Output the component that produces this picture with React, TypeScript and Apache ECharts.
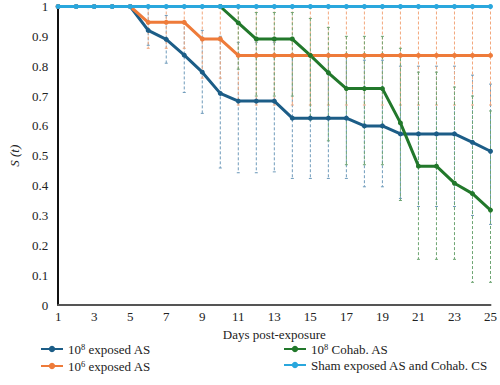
import React, { useEffect, useRef } from "react";
import * as echarts from "echarts";

const days = Array.from({ length: 25 }, (_, i) => String(i + 1));

const exposed8 = [1, 1, 1, 1, 1, 0.92, 0.89, 0.837, 0.78, 0.709, 0.683, 0.683, 0.683, 0.626, 0.626, 0.626, 0.626, 0.6, 0.6, 0.573, 0.573, 0.573, 0.573, 0.545, 0.515];
const exposed8Low = [null, null, null, null, null, 0.87, 0.81, 0.712, 0.642, 0.459, 0.443, 0.443, 0.446, 0.424, 0.424, 0.424, 0.424, 0.396, 0.396, 0.357, 0.33, 0.33, 0.33, 0.3, 0.27];
const exposed8High = [null, null, null, null, null, 0.997, 0.97, 0.95, 0.92, 0.9, 0.88, 0.88, 0.88, 0.84, 0.84, 0.84, 0.84, 0.82, 0.82, 0.8, 0.8, 0.8, 0.8, 0.77, 0.74];

const exposed6 = [1, 1, 1, 1, 1, 0.947, 0.947, 0.947, 0.891, 0.891, 0.836, 0.836, 0.836, 0.836, 0.836, 0.836, 0.836, 0.836, 0.836, 0.836, 0.836, 0.836, 0.836, 0.836, 0.836];
const exposed6Low = [null, null, null, null, null, 0.86, 0.86, 0.86, 0.76, 0.76, 0.67, 0.67, 0.67, 0.67, 0.67, 0.67, 0.67, 0.67, 0.67, 0.67, 0.67, 0.67, 0.67, 0.67, 0.67];
const exposed6High = [null, null, null, null, null, 1, 1, 1, 1, 1, 1, 1, 1, 1, 1, 1, 1, 1, 1, 1, 1, 1, 1, 1, 1];

const cohab8 = [null, null, null, null, null, null, null, null, null, 1, 0.945, 0.891, 0.891, 0.891, 0.836, 0.778, 0.725, 0.725, 0.725, 0.61, 0.465, 0.465, 0.408, 0.373, 0.318];
const cohab8Low = [null, null, null, null, null, null, null, null, null, null, 0.79, 0.7, 0.7, 0.7, 0.62, 0.55, 0.47, 0.47, 0.47, 0.35, 0.153, 0.153, 0.153, 0.076, 0.076];
const cohab8High = [null, null, null, null, null, null, null, null, null, null, 1, 0.98, 0.98, 0.98, 0.96, 0.93, 0.9, 0.9, 0.9, 0.86, 0.78, 0.78, 0.73, 0.7, 0.65];

const sham = Array.from({ length: 25 }, () => 1);

const names = ["10^8 exposed AS", "10^6 exposed AS", "10^8 Cohab. AS", "Sham exposed AS and Cohab. CS"];
const colors = ["#1c5d87", "#ee7b3a", "#22782b", "#2aa7dd"];
const barColors = ["#6f9bbb", "#f3a77c", "#6ea572", "#2aa7dd"];

const FONT = "Liberation Serif";

function errData(lo: (number | null)[], hi: (number | null)[]) {
  const out: number[][] = [];
  lo.forEach((l, i) => {
    const h = hi[i];
    if (l != null && h != null) out.push([i, l, h]);
  });
  return out;
}

function errSeries(lo: (number | null)[], hi: (number | null)[], color: string) {
  return {
    type: "custom",
    silent: true,
    z: 1,
    data: errData(lo, hi),
    encode: { x: 0, y: [1, 2] },
    renderItem: (params: any, api: any) => {
      const x = api.value(0);
      const p1 = api.coord([x, api.value(2)]);
      const p2 = api.coord([x, api.value(1)]);
      const st = { stroke: color, lineWidth: 1 };
      return {
        type: "group",
        children: [
          { type: "line", shape: { x1: p1[0], y1: p1[1], x2: p2[0], y2: p2[1] }, style: { ...st, lineDash: [3, 2] } },
          { type: "line", shape: { x1: p1[0] - 1.5, y1: p1[1], x2: p1[0] + 1.5, y2: p1[1] }, style: st },
          { type: "line", shape: { x1: p2[0] - 1.5, y1: p2[1], x2: p2[0] + 1.5, y2: p2[1] }, style: st },
        ],
      };
    },
  };
}

function lineSeries(name: string, data: (number | null)[], color: string, z: number) {
  return {
    type: "line",
    name,
    data,
    z,
    symbol: "circle",
    symbolSize: 5,
    showSymbol: true,
    lineStyle: { color, width: 3 },
    itemStyle: { color },
    connectNulls: false,
  };
}

const legendFormatter = (name: string) => {
  if (name.startsWith("10^")) {
    const exp = name.charAt(3);
    return "{b|10}{sup|" + exp + "}{b|" + name.slice(4) + "}";
  }
  return "{b|" + name + "}";
};

const legendText = {
  fontFamily: FONT,
  fontSize: 13,
  color: "#222",
  rich: {
    b: { fontFamily: FONT, fontSize: 13, color: "#222", lineHeight: 14, verticalAlign: "bottom" },
    sup: { fontFamily: FONT, fontSize: 8.5, color: "#222", lineHeight: 14, verticalAlign: "top", padding: [0, 0, 5, 0] },
  },
};

function legendCfg(data: string[], left: number) {
  return {
    data,
    orient: "vertical",
    left,
    top: 342,
    itemWidth: 22,
    itemHeight: 8,
    itemGap: 3,
    padding: 0,
    formatter: legendFormatter,
    textStyle: legendText,
  };
}

export default function App() {
  const ref = useRef<HTMLDivElement>(null);
  useEffect(() => {
    if (!ref.current) return;
    const chart = echarts.init(ref.current, undefined, { renderer: "svg" });
    chart.setOption({
      animation: false,
      backgroundColor: "#fff",
      color: colors,
      grid: { left: 41, right: 6, top: 4, bottom: 80, containLabel: false },
      legend: [legendCfg([names[0], names[1]], 40), legendCfg([names[2], names[3]], 283)],
      xAxis: {
        type: "category",
        data: days,
        boundaryGap: false,
        name: "Days post-exposure",
        nameLocation: "middle",
        nameGap: 17,
        nameTextStyle: { fontFamily: FONT, fontSize: 13, color: "#222" },
        axisLine: { lineStyle: { color: "#555", width: 2 } },
        axisTick: { show: false },
        axisLabel: { interval: 1, fontFamily: FONT, fontSize: 13, color: "#222", margin: 5 },
        splitLine: { show: false },
      },
      yAxis: {
        type: "value",
        min: 0,
        max: 1,
        interval: 0.1,
        name: "S (t)",
        nameLocation: "middle",
        nameGap: 30,
        nameRotate: 90,
        nameTextStyle: { fontFamily: FONT, fontSize: 13, fontStyle: "italic", color: "#222" },
        axisLine: { show: true, lineStyle: { color: "#111", width: 2 } },
        axisTick: { show: false },
        axisLabel: {
          fontFamily: FONT,
          fontSize: 13,
          color: "#222",
          margin: 10,
          formatter: (v: number) => String(Math.round(v * 10) / 10),
        },
        splitLine: { show: false },
      },
      series: [
        errSeries(exposed8Low, exposed8High, barColors[0]),
        errSeries(exposed6Low, exposed6High, barColors[1]),
        errSeries(cohab8Low, cohab8High, barColors[2]),
        lineSeries(names[0], exposed8, colors[0], 3),
        lineSeries(names[1], exposed6, colors[1], 3),
        lineSeries(names[2], cohab8, colors[2], 3),
        lineSeries(names[3], sham, colors[3], 4),
      ],
    });
    return () => chart.dispose();
  }, []);
  return <div ref={ref} style={{ position: "absolute", left: 0, top: 0, width: 500, height: 385 }} />;
}
